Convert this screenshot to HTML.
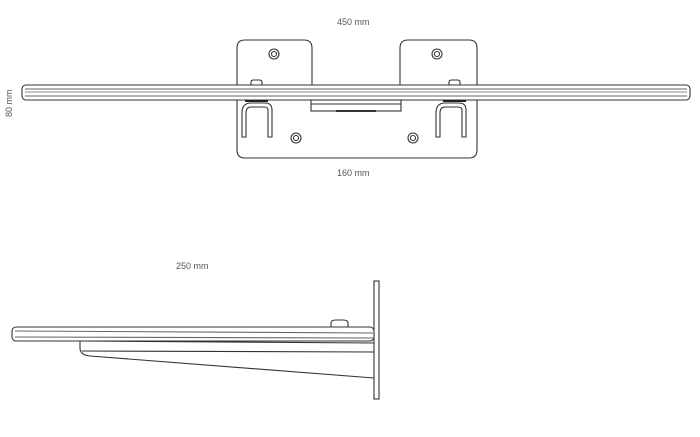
<!DOCTYPE html>
<html><head><style>body{margin:0;background:#fff}</style></head><body>
<svg width="700" height="432" viewBox="0 0 700 432" xmlns="http://www.w3.org/2000/svg" font-family="Liberation Sans, sans-serif" font-size="9" fill="none" stroke="#333" stroke-width="1.1">
<g fill="#555" stroke="none">
<text x="337" y="25">450 mm</text>
<text x="337" y="176">160 mm</text>
<text x="176" y="269">250 mm</text>
<text transform="translate(12,117) rotate(-90)">80 mm</text>
</g>
<path d="M237,85 V48 Q237,40 245,40 H304 Q312,40 312,48 V85" fill="#fff"/>
<path d="M400,85 V48 Q400,40 408,40 H469 Q477,40 477,48 V85" fill="#fff"/>
<path d="M237,100 V150 Q237,158 245,158 H469 Q477,158 477,150 V100" fill="#fff"/>
<circle cx="274" cy="54" r="5"/><circle cx="274" cy="54" r="2.5"/>
<circle cx="437" cy="54" r="5"/><circle cx="437" cy="54" r="2.5"/>
<circle cx="296" cy="138" r="5"/><circle cx="296" cy="138" r="2.5"/>
<circle cx="413" cy="138" r="5"/><circle cx="413" cy="138" r="2.5"/>
<path d="M251,85 V82 Q251,80 254,80 H259 Q262,80 262,82 V85"/>
<path d="M449,85 V82 Q449,80 452,80 H457 Q460,80 460,82 V85"/>
<rect x="22" y="85" width="668" height="15" rx="4" fill="#fff"/>
<line x1="25" y1="89" x2="687" y2="89" stroke="#666"/>
<line x1="25" y1="92" x2="687" y2="92" stroke="#888"/>
<line x1="25" y1="96" x2="687" y2="96" stroke="#666"/>
<rect x="311" y="100" width="90" height="11"/>
<line x1="311" y1="104" x2="401" y2="104"/>
<line x1="336" y1="111" x2="376" y2="111" stroke-width="2"/>
<path d="M242,137 V113 Q242,103 251,103 H265 Q272,103 272,110 V137 H268 V110 Q268,107 264,107 H251 Q246,107 246,113 V137 Z" fill="#fff"/>
<path d="M436,137 V113 Q436,103 445,103 H459 Q466,103 466,110 V137 H462 V110 Q462,107 458,107 H445 Q440,107 440,113 V137 Z" fill="#fff"/>
<line x1="245" y1="101" x2="268" y2="101" stroke-width="2" stroke="#222"/>
<line x1="443" y1="101" x2="466" y2="101" stroke-width="2" stroke="#222"/>
<rect x="374" y="281" width="5" height="118" fill="#fff"/>
<path d="M80,341 V348 Q80,355 90,356 L374,378"/>
<line x1="82" y1="351" x2="374" y2="352"/>
<path d="M331,327 V323 Q331,320 336,320 H343 Q348,320 348,323 V327" fill="#fff"/>
<rect x="12" y="327" width="362" height="14" rx="4" fill="#fff"/>
<line x1="15" y1="331" x2="373" y2="333" stroke="#666"/>
<line x1="15" y1="337" x2="373" y2="338" stroke="#666"/>
<line x1="80" y1="341" x2="374" y2="343"/>
</svg>
</body></html>
